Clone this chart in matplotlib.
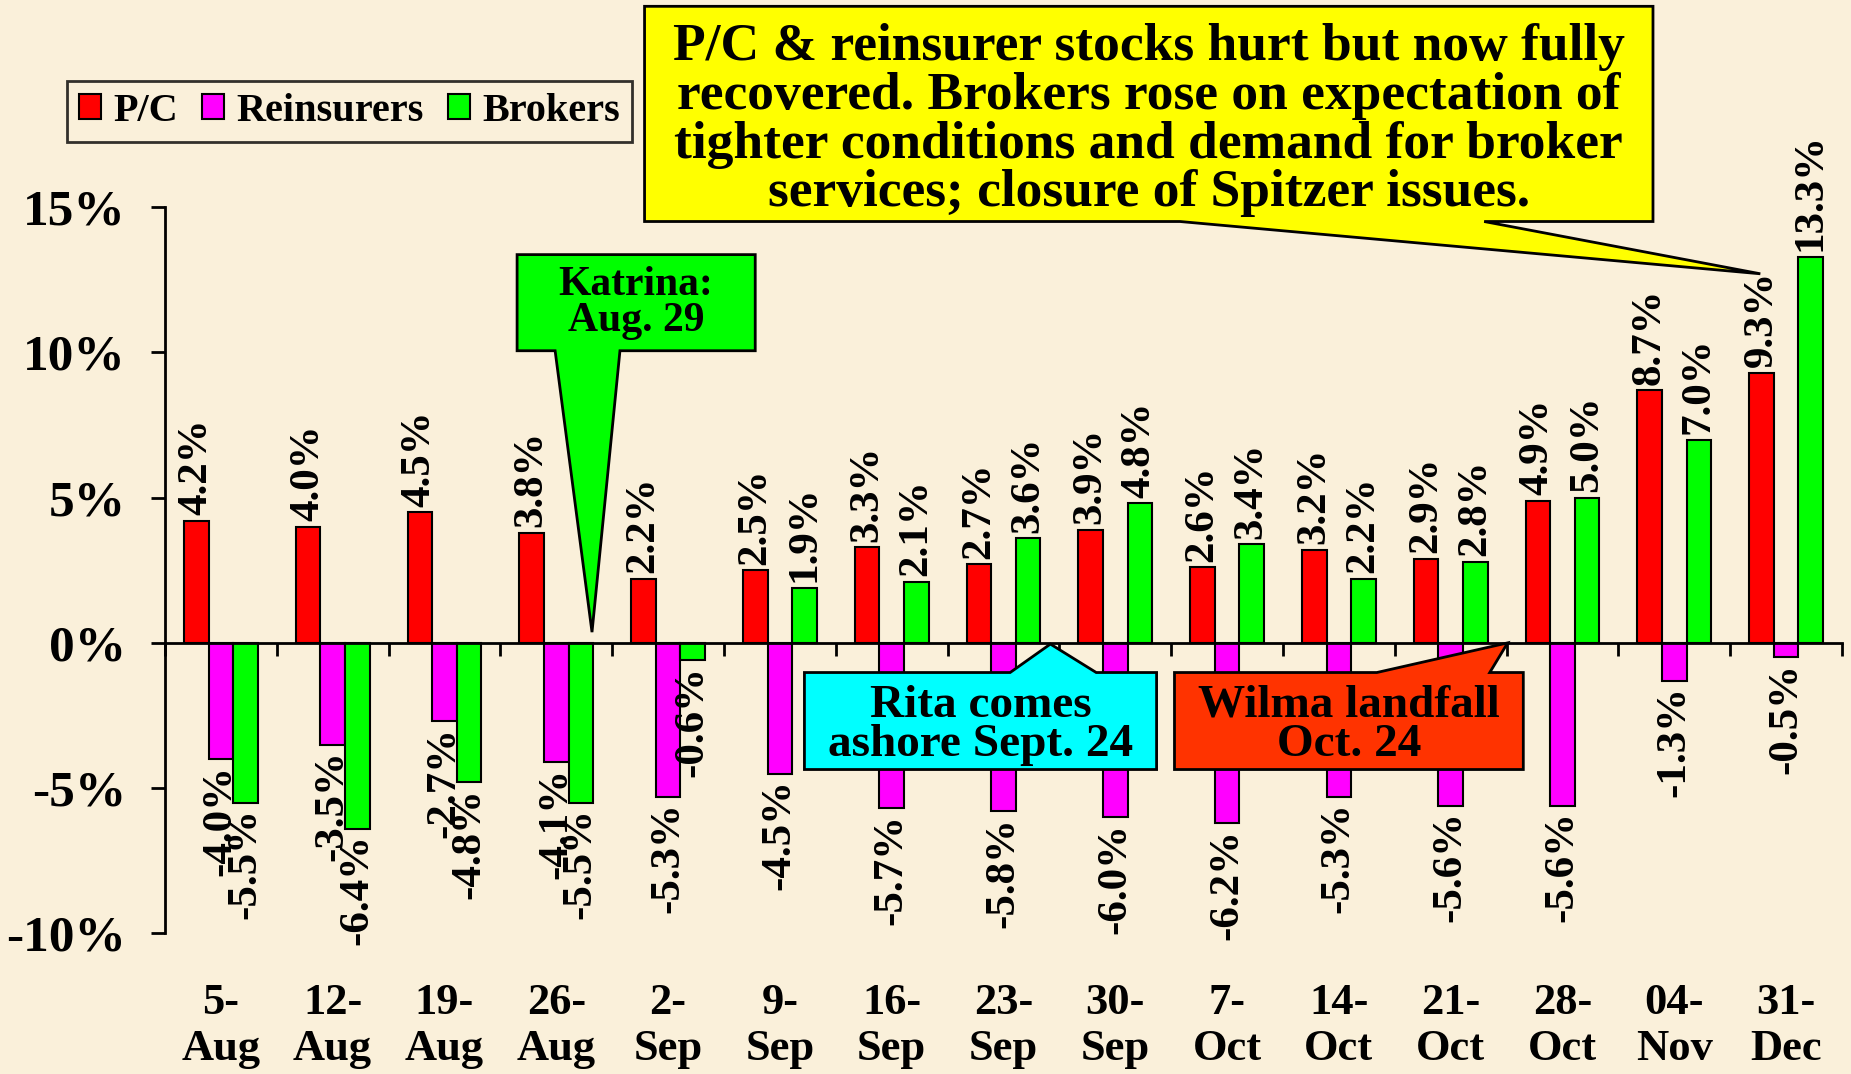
import matplotlib
matplotlib.use('Agg')
import matplotlib.pyplot as plt
from matplotlib.patches import Polygon, Patch
import numpy as np

plt.rcParams['font.family'] = ['Liberation Serif', 'DejaVu Serif']
plt.rcParams['font.weight'] = 'bold'

# Weekly returns (%) for each group
weeks = ['5-\nAug', '12-\nAug', '19-\nAug', '26-\nAug', '2-\nSep', '9-\nSep', '16-\nSep',
         '23-\nSep', '30-\nSep', '7-\nOct', '14-\nOct', '21-\nOct', '28-\nOct', '04-\nNov', '31-\nDec']
pc = [4.2, 4.0, 4.5, 3.8, 2.2, 2.5, 3.3, 2.7, 3.9, 2.6, 3.2, 2.9, 4.9, 8.7, 9.3]
reinsurers = [-4.0, -3.5, -2.7, -4.1, -5.3, -4.5, -5.7, -5.8, -6.0, -6.2, -5.3, -5.6, -5.6, -1.3, -0.5]
brokers = [-5.5, -6.4, -4.8, -5.5, -0.6, 1.9, 2.1, 3.6, 4.8, 3.4, 2.2, 2.8, 5.0, 7.0, 13.3]

series_names = ['P/C', 'Reinsurers', 'Brokers']
colors = ['#FF0000', '#FF00FF', '#00FF00']
yticks = [-10, -5, 0, 5, 10, 15]

bg = '#FAF0DA'
fig = plt.figure(figsize=(18.51, 10.74), dpi=100, facecolor=bg)
ax = fig.add_axes([0.0891, 0.131, 0.906, 0.676])
ax.set_facecolor(bg)

x = np.arange(len(weeks))
w = 0.22
for k, (vals, col) in enumerate(zip([pc, reinsurers, brokers], colors)):
    bars = ax.bar(x + (k - 1) * w, vals, w, color=col, edgecolor='black', linewidth=1.5, zorder=3)
    for b, v in zip(bars, vals):
        cx = b.get_x() + b.get_width() / 2
        if v >= 0:
            ax.annotate(f'{v:.1f}%', (cx, v), xytext=(0, 4), textcoords='offset points',
                        rotation=90, ha='center', va='bottom', fontsize=31, fontweight='bold', zorder=5)
        else:
            ax.annotate(f'{v:.1f}%', (cx, v), xytext=(0, -4), textcoords='offset points',
                        rotation=90, ha='center', va='top', fontsize=31, fontweight='bold', zorder=5)

ax.set_xlim(-0.5, len(weeks) - 0.5)
ax.set_ylim(-10, 15)

# axes styling
ax.spines['top'].set_visible(False)
ax.spines['right'].set_visible(False)
ax.spines['left'].set_linewidth(2)
ax.spines['bottom'].set_position(('data', 0))
ax.spines['bottom'].set_linewidth(2)
ax.spines['bottom'].set_zorder(4)
ax.set_yticks(yticks)
ax.set_yticklabels([f'{t}%' for t in yticks], fontsize=37, fontweight='bold')
ax.tick_params(axis='y', direction='out', length=10, width=2, pad=18)
ax.set_xticks(np.arange(-0.5, len(weeks), 1.0))
ax.set_xticklabels([])
ax.tick_params(axis='x', direction='out', length=9, width=2)

# category labels at the bottom
for i, lab in enumerate(weeks):
    ax.text(i, -13.2, lab, ha='center', va='center', fontsize=32, fontweight='bold',
            linespacing=1.2)

# legend
handles = [Patch(facecolor=c, edgecolor='black', linewidth=1.5) for c in colors]
leg = fig.legend(handles, series_names, loc='upper left', bbox_to_anchor=(0.036, 0.925),
                 ncol=3, frameon=True, fancybox=False, edgecolor='black', facecolor=bg,
                 handlelength=0.55, handleheight=0.6, handletextpad=0.3,
                 columnspacing=0.6, borderpad=0.3, borderaxespad=0,
                 prop={'weight': 'bold', 'size': 29})
leg.get_frame().set_linewidth(2)


def callout(x0, x1, ybot, ytop, side, wl, wr, tip, color, text, fs, ty, ls):
    if side == 'bottom':
        pts = [(x0, ytop), (x1, ytop), (x1, ybot), (wr, ybot), tip, (wl, ybot), (x0, ybot)]
    else:
        pts = [(x0, ybot), (x1, ybot), (x1, ytop), (wr, ytop), tip, (wl, ytop), (x0, ytop)]
    poly = Polygon(pts, closed=True, facecolor=color, edgecolor='black', linewidth=2,
                   zorder=6, clip_on=False)
    ax.add_patch(poly)
    ax.text((x0 + x1) / 2, ty, text, ha='center', va='center', fontsize=fs,
            fontweight='bold', linespacing=ls, zorder=7, clip_on=False)


callout(3.79, 12.81, 14.51, 21.92, 'bottom', 8.58, 11.3, (13.77, 12.71), '#FFFF00',
        'P/C & reinsurer stocks hurt but now fully\nrecovered. Brokers rose on expectation of\n'
        'tighter conditions and demand for broker\nservices; closure of Spitzer issues.', 38.5, 18.0, 1.02)
callout(2.65, 4.78, 10.06, 13.37, 'bottom', 2.99, 3.57, (3.32, 0.37), '#00FF00',
        'Katrina:\nAug. 29', 30, 11.7, 0.95)
callout(5.22, 8.37, -4.36, -1.02, 'top', 7.06, 7.83, (7.42, -0.04), '#00FFFF',
        'Rita comes\nashore Sept. 24', 34, -2.85, 0.92)
callout(8.53, 11.65, -4.36, -1.02, 'top', 10.34, 11.35, (11.51, 0.0), '#FF3300',
        'Wilma landfall\nOct. 24', 34, -2.85, 0.92)

fig.savefig('out.png', dpi=100, facecolor=bg)
